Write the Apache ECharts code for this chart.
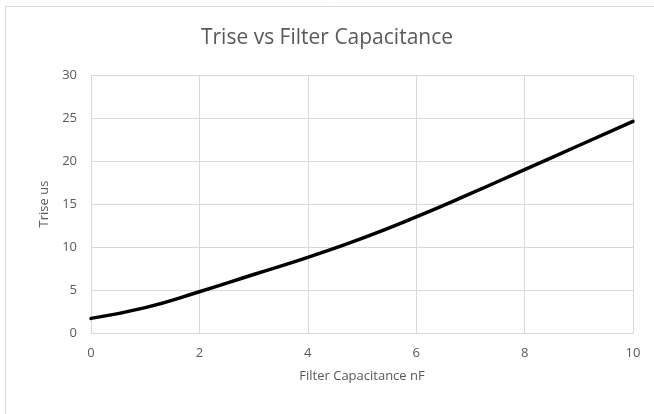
<!DOCTYPE html>
<html>
<head>
<meta charset="utf-8">
<script src="https://cdn.jsdelivr.net/npm/echarts@6/dist/echarts.min.js"></script>
<style>
  html, body { margin: 0; padding: 0; background: #fff; }
  #chart { width: 654px; height: 414px; }
</style>
</head>
<body>
<div id="chart"></div>
<script>
// capacitance in nF
const capacitance = [0, 1, 2, 3, 4, 5, 6, 7, 8, 9, 10]
// rise time in us
const trise = [1.7, 2.95, 4.8, 6.8, 8.8, 11.0, 13.5, 16.2, 19.0, 21.8, 24.6]

const textColor = '#595959'
const gridColor = '#d9d9d9'
const font = 'Open Sans'

const chart = echarts.init(document.getElementById('chart'))

chart.setOption({
  backgroundColor: '#fff',
  animation: false,
  title: {
    text: 'Trise vs Filter Capacitance',
    left: 'center',
    top: 23,
    textStyle: {
      fontFamily: font,
      fontWeight: 'normal',
      fontSize: 21,
      color: textColor
    }
  },
  graphic: [{
    type: 'rect',
    shape: { x: 5.5, y: 6.5, width: 700, height: 500 },
    style: { fill: 'none', stroke: gridColor, lineWidth: 1 },
    silent: true
  }],
  grid: {
    left: 91,
    right: 21,
    top: 75,
    bottom: 81
  },
  xAxis: {
    type: 'value',
    min: 0,
    max: 10,
    interval: 2,
    name: 'Filter Capacitance nF',
    nameLocation: 'middle',
    nameGap: 37,
    nameTextStyle: { fontFamily: font, fontSize: 13, color: textColor },
    axisLine: { show: true, lineStyle: { color: gridColor, width: 1 } },
    axisTick: { show: false },
    axisLabel: { margin: 14, fontFamily: font, fontSize: 13, color: textColor },
    splitLine: { show: true, lineStyle: { color: gridColor, width: 1 } }
  },
  yAxis: {
    type: 'value',
    min: 0,
    max: 30,
    interval: 5,
    name: 'Trise us',
    nameLocation: 'middle',
    nameGap: 40,
    nameTextStyle: { fontFamily: font, fontSize: 13, color: textColor },
    axisLine: { show: false },
    axisTick: { show: false },
    axisLabel: { margin: 14, fontFamily: font, fontSize: 13, color: textColor },
    splitLine: { show: true, lineStyle: { color: gridColor, width: 1 } }
  },
  series: [{
    type: 'line',
    data: capacitance.map((c, i) => [c, trise[i]]),
    smooth: 0.5,
    showSymbol: false,
    lineStyle: { color: '#000', width: 3.5, cap: 'round' }
  }]
})
</script>
</body>
</html>
